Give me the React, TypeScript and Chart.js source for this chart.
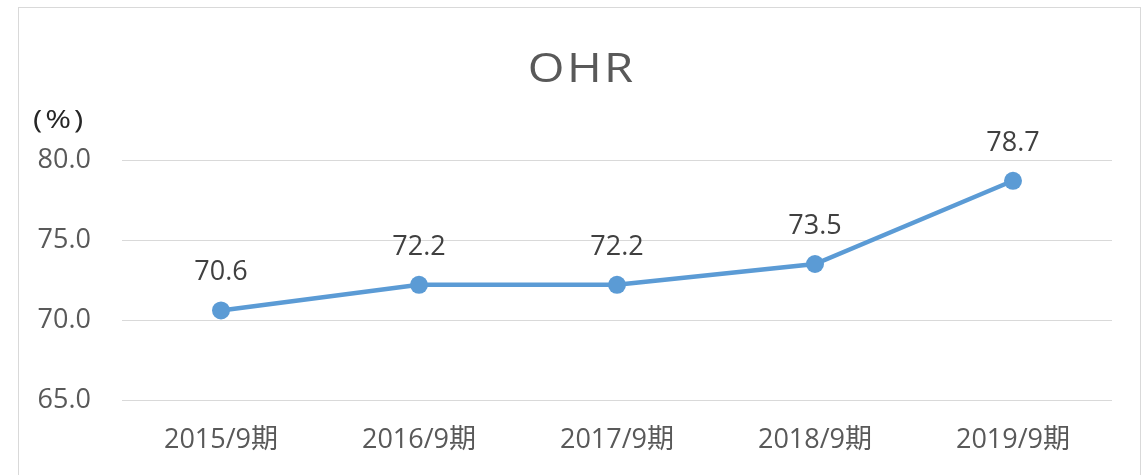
import React, { useEffect, useRef } from "react";
import { Chart, registerables } from "chart.js";

Chart.register(...registerables);

const categories = ["2015/9期", "2016/9期", "2017/9期", "2018/9期", "2019/9期"];
const ohrValues = [70.6, 72.2, 72.2, 73.5, 78.7];
const yTicks = [65, 70, 75, 80];
const chartTitle = "OHR";
const unitLabel = "(%)";

const FONT = "'Open Sans', 'Noto Sans CJK JP', sans-serif";

function drawSpaced(ctx: CanvasRenderingContext2D, text: string, x: number, y: number, gap: number) {
  let cx = x;
  for (const ch of text) {
    ctx.fillText(ch, cx, y);
    cx += ctx.measureText(ch).width + gap;
  }
}
function spacedWidth(ctx: CanvasRenderingContext2D, text: string, gap: number) {
  let w = 0;
  const chars = Array.from(text);
  chars.forEach((ch, i) => {
    w += ctx.measureText(ch).width + (i < chars.length - 1 ? gap : 0);
  });
  return w;
}

const decorPlugin = {
  id: "decor",
  afterDatasetsDraw(chart: any) {
    const ctx = chart.ctx as CanvasRenderingContext2D;
    ctx.save();
    // title (horizontally widened)
    ctx.font = `40px ${FONT}`;
    ctx.fillStyle = "#595959";
    ctx.textAlign = "left";
    ctx.textBaseline = "alphabetic";
    const sx = 1.18;
    const tw = spacedWidth(ctx, chartTitle, 2) * sx;
    ctx.save();
    ctx.translate(561.5 - tw / 2, 74);
    ctx.scale(sx, 1);
    drawSpaced(ctx, chartTitle, 0, 0, 2);
    ctx.restore();
    // unit label
    ctx.font = `26px ${FONT}`;
    ctx.fillStyle = "#262626";
    ctx.textBaseline = "middle";
    ctx.save();
    ctx.translate(14, 113);
    ctx.scale(1.2, 1);
    drawSpaced(ctx, unitLabel, 0, 0, 2.5);
    ctx.restore();
    // data labels
    ctx.font = `27px ${FONT}`;
    ctx.fillStyle = "#404040";
    ctx.textAlign = "center";
    ctx.textBaseline = "alphabetic";
    const meta = chart.getDatasetMeta(0);
    meta.data.forEach((pt: any, i: number) => {
      const v = chart.data.datasets[0].data[i] as number;
      ctx.fillText(v.toFixed(1), pt.x, pt.y - 30);
    });
    ctx.restore();
  },
};

export default function App() {
  const canvasRef = useRef<HTMLCanvasElement | null>(null);

  useEffect(() => {
    if (!canvasRef.current) return;
    const chart = new Chart(canvasRef.current, {
      type: "line",
      data: {
        labels: categories,
        datasets: [
          {
            data: ohrValues,
            borderColor: "#5B9BD5",
            backgroundColor: "#5B9BD5",
            borderWidth: 4.5,
            pointRadius: 9,
            pointHoverRadius: 9,
            pointBackgroundColor: "#5B9BD5",
            pointBorderColor: "#5B9BD5",
            pointBorderWidth: 0,
            tension: 0,
          },
        ],
      },
      options: {
        responsive: false,
        animation: false,
        maintainAspectRatio: false,
        layout: { padding: { top: 152, right: 28, left: 0, bottom: 0 } },
        plugins: {
          legend: { display: false },
          title: { display: false },
          tooltip: { enabled: false },
        },
        scales: {
          x: {
            offset: true,
            grid: { display: false, drawTicks: false },
            border: { display: false },
            ticks: {
              color: "#595959",
              font: { family: FONT, size: 27 },
              padding: 24,
              maxRotation: 0,
              autoSkip: false,
            },
            afterFit(scale: any) {
              scale.height = 78;
            },
          },
          y: {
            min: yTicks[0],
            max: yTicks[yTicks.length - 1],
            afterBuildTicks(scale: any) {
              scale.ticks = yTicks.map((v) => ({ value: v }));
            },
            grid: { color: "#d9d9d9", lineWidth: 1, drawTicks: false },
            border: { display: false },
            ticks: {
              color: "#595959",
              font: { family: FONT, size: 27 },
              padding: 31,
              callback: (v: any) => Number(v).toFixed(1),
            },
            afterFit(scale: any) {
              scale.width = 103;
            },
          },
        },
      },
      plugins: [decorPlugin],
    });
    return () => chart.destroy();
  }, []);

  return (
    <div
      style={{
        position: "fixed",
        left: 18,
        top: 7,
        width: 1121,
        height: 480,
        border: "1px solid #d9d9d9",
        background: "#fff",
        overflow: "hidden",
      }}
    >
      <canvas ref={canvasRef} width={1121} height={470} style={{ display: "block" }} />
    </div>
  );
}
